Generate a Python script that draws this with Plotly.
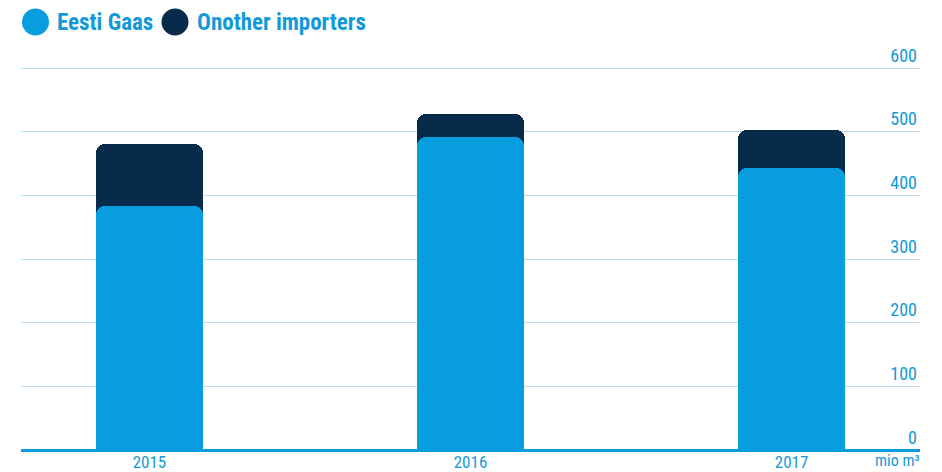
import plotly.graph_objects as go

years = ["2015", "2016", "2017"]
eesti_gaas = [384, 492, 443]
other_importers = [96, 35, 59]
y_ticks = [0, 100, 200, 300, 400, 500, 600]

LIGHT = "#079ddf"
DARK = "#082b4b"
TEXT = "#1399d9"
GRID = "#b9def3"
FONT = "Roboto Condensed, Liberation Sans Narrow, Roboto, sans-serif"

W, H = 942, 472
L, R, T, B = 21, 22, 66, 22
pw, ph = W - L - R, H - T - B
ppu = 382 / 600  # pixels per unit
ytop = ph / ppu

totals = [a + b for a, b in zip(eesti_gaas, other_importers)]

fig = go.Figure()
fig.add_trace(go.Bar(x=years, y=totals, marker=dict(color=DARK, cornerradius=9, line=dict(width=0)),
                     width=0.335, name="Onother importers", customdata=other_importers,
                     hovertemplate="%{x}: %{customdata}<extra>Onother importers</extra>"))
fig.add_trace(go.Bar(x=years, y=eesti_gaas, marker=dict(color=LIGHT, cornerradius=9, line=dict(width=0)),
                     width=0.335, name="Eesti Gaas", xaxis="x2"))

def px2paper(x, y):
    return (x - L) / pw, (H - B - y) / ph

shapes = []
annotations = []
legend = [("Eesti Gaas", LIGHT, 35.5, 57), ("Onother importers", DARK, 175, 197)]
for label, color, cx, tx0 in legend:
    cy, r = 22, 13.5
    x0, y0 = px2paper(cx - r, cy + r)
    x1, y1 = px2paper(cx + r, cy - r)
    shapes.append(dict(type="circle", xref="paper", yref="paper", x0=x0, y0=y0, x1=x1, y1=y1,
                       fillcolor=color, line=dict(width=0)))
    tx, ty = px2paper(tx0 - 2, cy + 1)
    annotations.append(dict(text=f"<b>{label}</b>", xref="paper", yref="paper", x=tx, y=ty,
                            xanchor="left", yanchor="middle", showarrow=False,
                            font=dict(family=FONT, size=23, color=TEXT)))

ux, uy = px2paper(922, 472)
annotations.append(dict(text="mio m³", xref="paper", yref="paper", x=ux, y=uy,
                        xanchor="right", yanchor="bottom", showarrow=False,
                        font=dict(family=FONT, size=16, color=TEXT)))

xcommon = dict(range=[-0.4, 2.4], showgrid=False, ticks="", showline=False, zeroline=False,
               fixedrange=True, automargin=False)
fig.update_layout(
    width=W, height=H,
    margin=dict(l=L, r=R, t=T, b=B, autoexpand=False),
    paper_bgcolor="white", plot_bgcolor="white",
    barmode="overlay", bargap=0,
    showlegend=False,
    shapes=shapes, annotations=annotations,
    xaxis=dict(**xcommon, tickfont=dict(family=FONT, size=17, color=TEXT)),
    xaxis2=dict(**xcommon, overlaying="x", showticklabels=False, matches="x"),
    yaxis=dict(range=[0, ytop], tickvals=y_ticks, side="right", ticklabelposition="inside top",
               ticklabeloverflow="allow", showgrid=True, gridcolor=GRID, gridwidth=1,
               zeroline=True, zerolinecolor=LIGHT, zerolinewidth=2.5, showline=False,
               tickfont=dict(family=FONT, size=18, color=TEXT), fixedrange=True, automargin=False),
)

fig.write_html("out.html")
